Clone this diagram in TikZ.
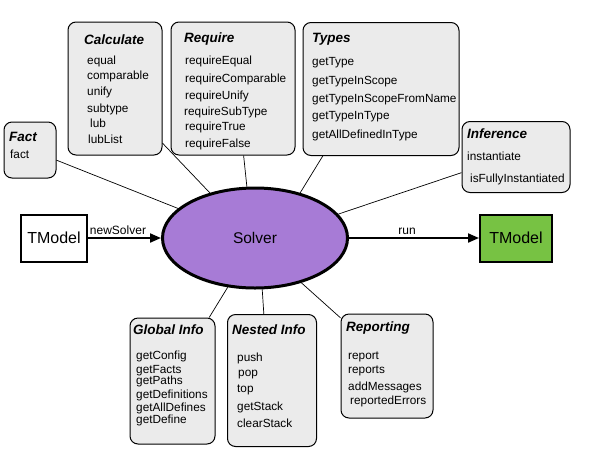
\documentclass[tikz,border=0pt]{standalone}
\usepackage{fontspec}
\setmainfont{Liberation Sans}
\usetikzlibrary{shapes.geometric,arrows.meta}
\definecolor{boxgray}{HTML}{EBEBEB}
\definecolor{solverpurple}{HTML}{A77BD6}
\definecolor{modelgreen}{HTML}{77C243}
\begin{document}
\begin{tikzpicture}[x=1pt,y=-1pt,
 groupbox/.style={draw=black,line width=1pt,fill=boxgray,rounded corners=8pt,inner sep=0pt},
 title/.style={anchor=base west,inner sep=0pt,font=\fontsize{13.5}{16}\selectfont\bfseries\itshape},
 item/.style={anchor=base west,inner sep=0pt,font=\fontsize{11.8}{14}\selectfont},
 model/.style={draw=black,line width=2pt,inner sep=0pt,minimum height=47pt,font=\fontsize{16}{19}\selectfont},
 link/.style={draw=black,line width=0.7pt},
 flow/.style={draw=black,line width=2pt,-{Triangle[length=11pt,width=9pt]}},
 flowlabel/.style={font=\fontsize{12}{14}\selectfont,inner sep=0pt,anchor=base}]
\useasboundingbox (0,0) rectangle (605,448);

% group boxes
\node[groupbox,minimum width=94pt,minimum height=133pt] (calc) at (115,88.5) {};
\node[groupbox,minimum width=124pt,minimum height=133pt] (req) at (233,88.5) {};
\node[groupbox,minimum width=52pt,minimum height=56pt] (fact) at (30,150) {};
\node[groupbox,minimum width=156pt,minimum height=133pt] (types) at (381,89) {};
\node[groupbox,minimum width=108pt,minimum height=71pt] (inf) at (516,157) {};
\node[groupbox,minimum width=85pt,minimum height=126pt] (glob) at (172.5,381) {};
\node[groupbox,minimum width=89pt,minimum height=132pt] (nest) at (272,380.5) {};
\node[groupbox,minimum width=92pt,minimum height=104pt] (rep) at (387,366) {};

% solver and models
\node[ellipse,draw=black,line width=3pt,fill=solverpurple,minimum width=185pt,minimum height=100pt,inner sep=0pt,font=\fontsize{15.5}{18}\selectfont] (solver) at (255,238) {Solver};
\node[model,fill=white,minimum width=66pt] (tmin) at (54,238) {TModel};
\node[model,fill=modelgreen,minimum width=72pt] (tmout) at (516,238) {TModel};

% connectors
\draw[link] (fact.-21) -- (solver.159);
\draw[link] (calc.-49) -- (solver.135);
\draw[link] (req.-81.5) -- (solver.99);
\draw[link] (types.-131) -- (solver.45);
\draw[link] (inf.196.5) -- (solver.16);
\draw[link] (glob.60) -- (solver.241.5);
\draw[link] (nest.97) -- (solver.278);
\draw[link] (rep.134) -- (solver.316);

\draw[flow] (tmin.east) -- (solver.west);
\draw[flow] (solver.east) -- (tmout.west);
\node[flowlabel] (lnew) at (118,234) {newSolver};
\node[flowlabel] (lrun) at (407,234) {run};

% Calculate
\node[title] (calct) at (84,44) {Calculate};
\node[item] (calc1) at (87,64) {equal};
\node[item] (calc2) at (87,79) {comparable};
\node[item] (calc3) at (87,95) {unify};
\node[item] (calc4) at (87,112) {subtype};
\node[item] (calc5) at (90,127) {lub};
\node[item] (calc6) at (88,143) {lubList};

% Require
\node[title] (reqt) at (184,42) {Require};
\node[item] (req1) at (185,64) {requireEqual};
\node[item] (req2) at (185,82) {requireComparable};
\node[item] (req3) at (185,99) {requireUnify};
\node[item] (req4) at (184,115) {requireSubType};
\node[item] (req5) at (185,130) {requireTrue};
\node[item] (req6) at (185,147) {requireFalse};

% Fact
\node[title] (factt) at (9,141) {Fact};
\node[item] (fact1) at (10,158) {fact};

% Types
\node[title] (typest) at (312,42) {Types};
\node[item] (types1) at (312,65) {getType};
\node[item] (types2) at (312,84) {getTypeInScope};
\node[item] (types3) at (312,102) {getTypeInScopeFromName};
\node[item] (types4) at (312,119) {getTypeInType};
\node[item] (types5) at (312,138) {getAllDefinedInType};

% Inference
\node[title] (inft) at (467,138) {Inference};
\node[item] (inf1) at (467,160) {instantiate};
\node[item] (inf2) at (470,182) {isFullyInstantiated};

% Global Info
\node[title] (globt) at (133,334) {Global Info};
\node[item] (glob1) at (136,359) {getConfig};
\node[item] (glob2) at (136,373) {getFacts};
\node[item] (glob3) at (136,384) {getPaths};
\node[item] (glob4) at (136,398) {getDefinitions};
\node[item] (glob5) at (136,411) {getAllDefines};
\node[item] (glob6) at (136,423) {getDefine};

% Nested Info
\node[title] (nestt) at (232,334) {Nested Info};
\node[item] (nest1) at (237,361) {push};
\node[item] (nest2) at (238,376) {pop};
\node[item] (nest3) at (237,392) {top};
\node[item] (nest4) at (237,410) {getStack};
\node[item] (nest5) at (237,427) {clearStack};

% Reporting
\node[title] (rept) at (346,331) {Reporting};
\node[item] (rep1) at (348,359) {report};
\node[item] (rep2) at (348,373) {reports};
\node[item] (rep3) at (348,390) {addMessages};
\node[item] (rep4) at (350,404) {reportedErrors};
\end{tikzpicture}
\end{document}
